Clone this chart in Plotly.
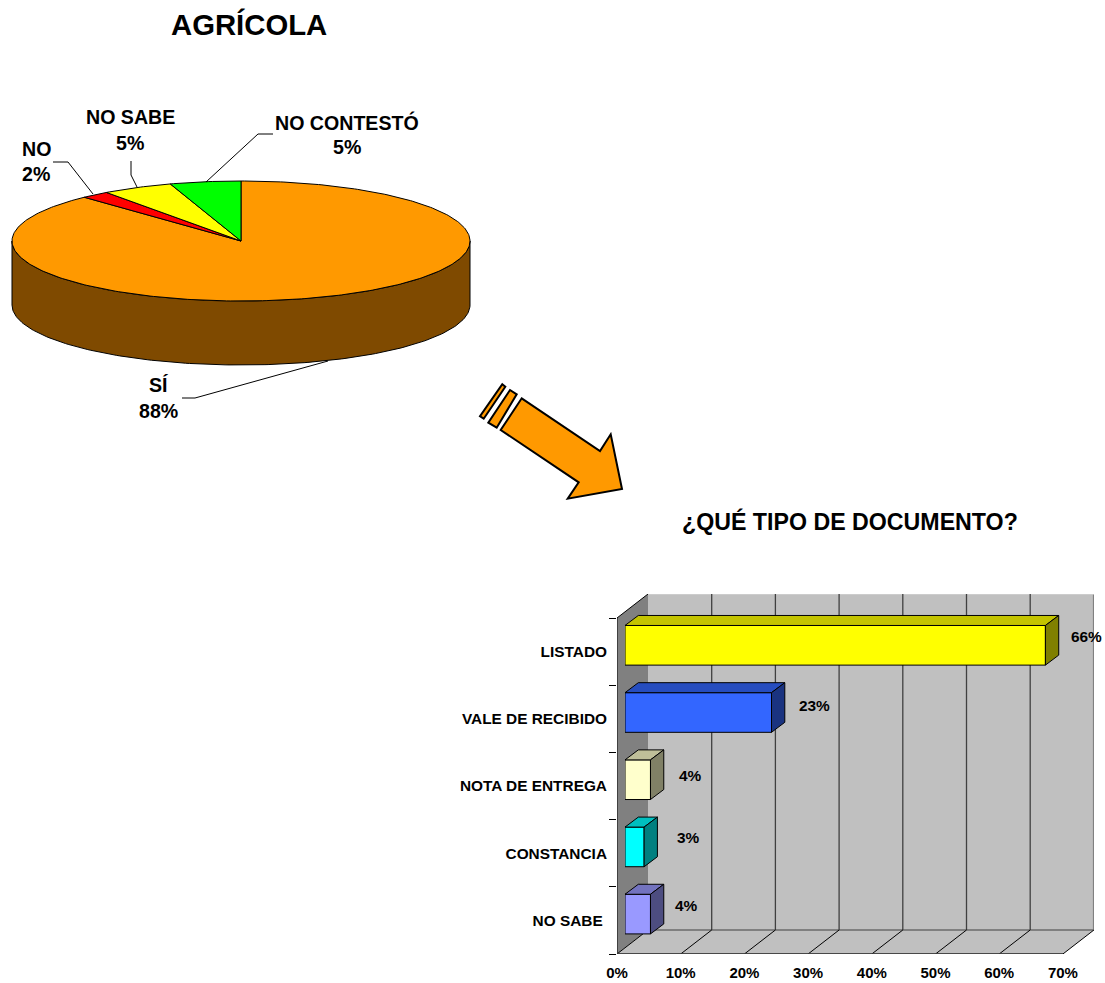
import math
import plotly.graph_objects as go

# ---------- data ----------
pie_labels = ["SÍ", "NO", "NO SABE", "NO CONTESTÓ"]
pie_values = [88, 2, 5, 5]
pie_colors = ["#FF9900", "#FF0000", "#FFFF00", "#00FF00"]

bar_labels = ["LISTADO", "VALE DE RECIBIDO", "NOTA DE ENTREGA", "CONSTANCIA", "NO SABE\u00a0"]
bar_values = [66, 23, 4, 3, 4]
bar_front = ["#FFFF00", "#3366FF", "#FFFFCC", "#00FFFF", "#9999FF"]
bar_top = ["#C4C400", "#264DBF", "#BFBF99", "#00BFBF", "#7373BF"]
bar_side = ["#808000", "#1A3380", "#808066", "#008080", "#4D4D80"]
x_ticks = [0, 10, 20, 30, 40, 50, 60, 70]

W, H = 1105, 983
FONT = "Liberation Sans, Arial, sans-serif"
fig = go.Figure()

def dx(px0, px1):
    return [px0 / W, px1 / W]

def dy(top, bottom):
    return [1 - bottom / H, 1 - top / H]

# ---------- bar chart geometry ----------
PX_PER_PCT = 6.37
CAT_PX = 67.2
WALL_DX = 31 / PX_PER_PCT
WALL_DY = 24 / CAT_PX
BAR_DX = 13.3 / PX_PER_PCT
BAR_DY = 10 / CAT_PX
BAR_W = 0.59
Y_FRONT, Y_BACK = 4.5, 4.5 - WALL_DY
Y_TOP = -0.5 - WALL_DY

def poly(xs, ys, fill, axes, line="rgba(0,0,0,0)", width=0):
    fig.add_trace(go.Scatter(
        x=xs + xs[:1], y=ys + ys[:1], mode="lines", fill="toself", fillcolor=fill,
        line=dict(color=line, width=width), hoverinfo="skip", showlegend=False,
        xaxis=axes[0], yaxis=axes[1]))

wall = ("x", "y")
xmax = x_ticks[-1]
poly([WALL_DX, xmax + WALL_DX, xmax + WALL_DX, WALL_DX], [Y_TOP, Y_TOP, Y_BACK, Y_BACK], "#C0C0C0", wall)
poly([0, WALL_DX, WALL_DX, 0], [-0.5, Y_TOP, Y_BACK, Y_FRONT], "#808080", wall)
poly([0, xmax, xmax + WALL_DX, WALL_DX], [Y_FRONT, Y_FRONT, Y_BACK, Y_BACK], "#C0C0C0", wall)

def segs(pairs, color, width):
    xs, ys = [], []
    for (a, b), (c, d) in pairs:
        xs += [a, c, None]
        ys += [b, d, None]
    fig.add_trace(go.Scatter(x=xs, y=ys, mode="lines", line=dict(color=color, width=width),
                             hoverinfo="skip", showlegend=False, xaxis="x", yaxis="y"))

segs([((WALL_DX, Y_BACK), (xmax + WALL_DX, Y_BACK)),
      ((xmax + WALL_DX, Y_BACK), (xmax + WALL_DX, Y_TOP))], "#808080", 2)
segs([((WALL_DX, Y_TOP), (xmax + WALL_DX, Y_TOP))], "#D0D0D0", 1.5)
segs([((t + WALL_DX, Y_TOP), (t + WALL_DX, Y_BACK)) for t in x_ticks[1:-1]], "#404040", 1.3)
segs([((t, Y_FRONT), (t + WALL_DX, Y_BACK)) for t in x_ticks], "#000000", 1)
segs([((0, Y_FRONT), (xmax, Y_FRONT)), ((0, Y_FRONT), (0, -0.5)),
      ((0, -0.5), (WALL_DX, Y_TOP))], "#000000", 1)
segs([((0, Y_FRONT), (xmax, Y_FRONT))], "#404040", 1.5)

# bars: front faces through the bar trace, 3D faces from the same values
idx = list(range(len(bar_values)))
fig.add_trace(go.Bar(x=bar_values, y=idx, orientation="h", width=BAR_W,
                     marker=dict(color=bar_front, line=dict(color="#000000", width=1)),
                     hoverinfo="skip", showlegend=False, xaxis="x2", yaxis="y2"))
barax = ("x2", "y2")
for i, v in enumerate(bar_values):
    t, b = i - BAR_W / 2, i + BAR_W / 2
    poly([0, v, v + BAR_DX, BAR_DX], [t, t, t - BAR_DY, t - BAR_DY], bar_top[i], barax, "#000000", 1)
    poly([v, v + BAR_DX, v + BAR_DX, v], [t, t - BAR_DY, b - BAR_DY, b], bar_side[i], barax, "#000000", 1)

# ---------- pie ----------
PX, PY, RX, RY, DEPTH = 241, 241, 229, 60, 64
page = ("x3", "y3")

def ell(frac):
    a = 2 * math.pi * frac
    return PX + RX * math.sin(a), PY - RY * math.cos(a)

arc_n = 180
lower = [0.25 + 0.5 * k / arc_n for k in range(arc_n + 1)]
sx = [ell(f)[0] for f in lower]
sy = [ell(f)[1] for f in lower]
poly(sx + sx[::-1], sy + [y + DEPTH for y in sy[::-1]], "#7F4A00", page, "#000000", 1)

total = sum(pie_values)
cum = 0
for v, c in zip(pie_values, pie_colors):
    n = max(4, int(v * 4))
    fr = [(cum + v * k / n) / total for k in range(n + 1)]
    poly([PX] + [ell(f)[0] for f in fr], [PY] + [ell(f)[1] for f in fr], c, page, "#000000", 1)
    cum += v

# ---------- annotations ----------
annos = []

def txt(x, y, s, size):
    annos.append(dict(x=x, y=y, xref="x3", yref="y3", text=s, showarrow=False,
                      xanchor="center", yanchor="middle",
                      font=dict(family=FONT, size=size, color="#000000")))

txt(249, 24.5, "<b>AGRÍCOLA</b>", 29.3)
txt(850, 521, "<b>¿QUÉ TIPO DE DOCUMENTO?</b>", 23.2)

pie_text = {"NO": (36, 149, 174), "NO SABE": (130, 117, 143), "NO CONTESTÓ": (347, 122, 147), "SÍ": (158, 385, 411)}
for lab, v in zip(pie_labels, pie_values):
    x, y1, y2 = pie_text[lab]
    txt(x, y1, f"<b>{lab}</b>", 19.6)
    txt(x, y2, f"<b>{v}%</b>", 19.6)

shifts = [(28, 9), (30, 7), (27, 4), (31, 9), (23, 9)]
for i, v in enumerate(bar_values):
    annos.append(dict(x=v + BAR_DX, y=i, xref="x2", yref="y2", text=f"<b>{v}%</b>", showarrow=False,
                      xanchor="center", yanchor="middle", xshift=shifts[i][0], yshift=shifts[i][1],
                      font=dict(family=FONT, size=15.4, color="#000000")))

def path(pts):
    return "M" + " L".join(f"{x:.1f},{y:.1f}" for x, y in pts)

def arrow_pts(raw):
    return [(470 + x / 3, 375 + y / 3) for x, y in raw]

arrow = [
    [(97, 28), (106, 35), (41, 131), (30, 124)],
    [(120, 45), (140, 58), (80, 158), (55, 143)],
    [(155, 70), (390, 228), (422, 178), (456, 342), (293, 371), (326, 322), (92, 165)],
]
shapes = [dict(type="path", path=path(arrow_pts(a)) + " Z", xref="x3", yref="y3",
               fillcolor="#FF9900", line=dict(color="#000000", width=2)) for a in arrow]
leaders = [
    [(53, 162), (68, 162), (93, 194)],
    [(131, 161), (131, 175), (137, 187)],
    [(273, 134), (258, 134), (206, 182)],
    [(182, 398), (195, 398), (328, 361)],
]
shapes += [dict(type="path", path=path(l), xref="x3", yref="y3",
                line=dict(color="#000000", width=1)) for l in leaders]

hidden = dict(visible=False, showgrid=False, zeroline=False, fixedrange=True)
fig.update_layout(
    width=W, height=H, autosize=False,
    margin=dict(l=0, r=0, t=0, b=0, pad=0, autoexpand=False),
    paper_bgcolor="#FFFFFF", plot_bgcolor="rgba(0,0,0,0)", showlegend=False, barmode="overlay",
    annotations=annos, shapes=shapes,
    font=dict(family=FONT, color="#000000"),
    xaxis=dict(domain=dx(617, 617 + PX_PER_PCT * (xmax + WALL_DX)), range=[0, xmax + WALL_DX],
               tickvals=x_ticks, ticktext=[f"<b>{t}%</b>" for t in x_ticks], ticks="",
               showgrid=False, zeroline=False, showline=False, ticklabelstandoff=8,
               tickfont=dict(family=FONT, size=15), tickangle=0, anchor="y"),
    yaxis=dict(domain=dy(954 - CAT_PX * (Y_FRONT - Y_TOP), 954), range=[Y_FRONT, Y_TOP],
               tickvals=idx, ticktext=[f"<b>{s}</b>" for s in bar_labels], ticks="",
               minor=dict(tickvals=[i - 0.5 for i in range(len(idx) + 1)], ticks="outside",
                          ticklen=7, tickcolor="#000000", tickwidth=1),
               showgrid=False, zeroline=False, showline=False, ticklabelstandoff=9,
               tickfont=dict(family=FONT, size=15.4), anchor="x"),
    xaxis2=dict(domain=dx(625, 625 + PX_PER_PCT * xmax), range=[0, xmax], anchor="y2", **hidden),
    yaxis2=dict(domain=dy(618 - 6.3, 954 - 6.3), range=[4.5, -0.5], anchor="x2", **hidden),
    xaxis3=dict(domain=[0, 1], range=[0, W], anchor="y3", **hidden),
    yaxis3=dict(domain=[0, 1], range=[H, 0], anchor="x3", **hidden),
)

fig.write_html("out.html", config={"displayModeBar": False},
               post_script="document.body.style.margin='0';document.body.style.overflow='hidden';")
